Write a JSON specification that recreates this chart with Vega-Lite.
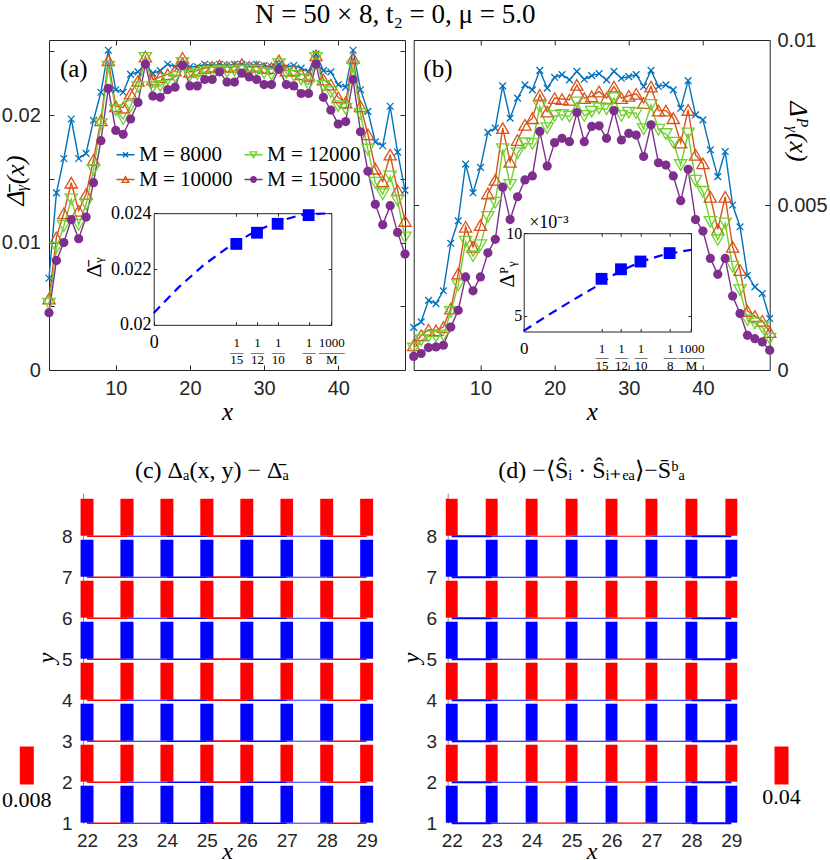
{
"$schema":"https://vega.github.io/schema/vega-lite/v6.json",
"background":"white",
"padding":0,
"autosize":{"type":"pad"},
"config":{
 "view":{"stroke":"#262626"},
 "axis":{"grid":false,"labelFont":"Liberation Sans","labelFontSize":20,"labelColor":"#262626","tickColor":"#262626","domainColor":"#262626","tickWidth":1,"titleFont":"Liberation Serif","titleFontWeight":"normal","titleFontStyle":"italic","titleColor":"#000","titleFontSize":25},
 "title":{"font":"Liberation Serif","fontWeight":"normal","color":"#000"}
},
"title":{"text":"N = 50 \u00d7 8, t\u2082 = 0, \u03bc = 5.0","font":"Liberation Serif","fontSize":27,"anchor":"middle","dx":-19,"offset":1},
"datasets":{
"pa":[
{"x":1,"M":"8000","v":0.0072},{"x":2,"M":"8000","v":0.0139},{"x":3,"M":"8000","v":0.0166},{"x":4,"M":"8000","v":0.0197},{"x":5,"M":"8000","v":0.0166},{"x":6,"M":"8000","v":0.0170},{"x":7,"M":"8000","v":0.0196},{"x":8,"M":"8000","v":0.0218},{"x":9,"M":"8000","v":0.0251},{"x":10,"M":"8000","v":0.0220},{"x":11,"M":"8000","v":0.0218},{"x":12,"M":"8000","v":0.0232},{"x":13,"M":"8000","v":0.0234},{"x":14,"M":"8000","v":0.0240},{"x":15,"M":"8000","v":0.0233},{"x":16,"M":"8000","v":0.0235},{"x":17,"M":"8000","v":0.0240},{"x":18,"M":"8000","v":0.0238},{"x":19,"M":"8000","v":0.0240},{"x":20,"M":"8000","v":0.0238},{"x":21,"M":"8000","v":0.0238},{"x":22,"M":"8000","v":0.0240},{"x":23,"M":"8000","v":0.0239},{"x":24,"M":"8000","v":0.0240},{"x":25,"M":"8000","v":0.0239},{"x":26,"M":"8000","v":0.0240},{"x":27,"M":"8000","v":0.0240},{"x":28,"M":"8000","v":0.0239},{"x":29,"M":"8000","v":0.0240},{"x":30,"M":"8000","v":0.0239},{"x":31,"M":"8000","v":0.0238},{"x":32,"M":"8000","v":0.0240},{"x":33,"M":"8000","v":0.0238},{"x":34,"M":"8000","v":0.0239},{"x":35,"M":"8000","v":0.0237},{"x":36,"M":"8000","v":0.0234},{"x":37,"M":"8000","v":0.0248},{"x":38,"M":"8000","v":0.0235},{"x":39,"M":"8000","v":0.0234},{"x":40,"M":"8000","v":0.0224},{"x":41,"M":"8000","v":0.0222},{"x":42,"M":"8000","v":0.0251},{"x":43,"M":"8000","v":0.0220},{"x":44,"M":"8000","v":0.0203},{"x":45,"M":"8000","v":0.0179},{"x":46,"M":"8000","v":0.0176},{"x":47,"M":"8000","v":0.0207},{"x":48,"M":"8000","v":0.0171},{"x":49,"M":"8000","v":0.0141},
{"x":1,"M":"10000","v":0.0056},{"x":2,"M":"10000","v":0.0104},{"x":3,"M":"10000","v":0.0123},{"x":4,"M":"10000","v":0.0147},{"x":5,"M":"10000","v":0.0125},{"x":6,"M":"10000","v":0.0138},{"x":7,"M":"10000","v":0.0165},{"x":8,"M":"10000","v":0.0196},{"x":9,"M":"10000","v":0.0243},{"x":10,"M":"10000","v":0.0207},{"x":11,"M":"10000","v":0.0206},{"x":12,"M":"10000","v":0.0217},{"x":13,"M":"10000","v":0.0227},{"x":14,"M":"10000","v":0.0246},{"x":15,"M":"10000","v":0.0228},{"x":16,"M":"10000","v":0.0230},{"x":17,"M":"10000","v":0.0232},{"x":18,"M":"10000","v":0.0235},{"x":19,"M":"10000","v":0.0245},{"x":20,"M":"10000","v":0.0234},{"x":21,"M":"10000","v":0.0235},{"x":22,"M":"10000","v":0.0237},{"x":23,"M":"10000","v":0.0238},{"x":24,"M":"10000","v":0.0239},{"x":25,"M":"10000","v":0.0238},{"x":26,"M":"10000","v":0.0238},{"x":27,"M":"10000","v":0.0240},{"x":28,"M":"10000","v":0.0238},{"x":29,"M":"10000","v":0.0238},{"x":30,"M":"10000","v":0.0237},{"x":31,"M":"10000","v":0.0237},{"x":32,"M":"10000","v":0.0243},{"x":33,"M":"10000","v":0.0235},{"x":34,"M":"10000","v":0.0235},{"x":35,"M":"10000","v":0.0232},{"x":36,"M":"10000","v":0.0231},{"x":37,"M":"10000","v":0.0247},{"x":38,"M":"10000","v":0.0228},{"x":39,"M":"10000","v":0.0224},{"x":40,"M":"10000","v":0.0214},{"x":41,"M":"10000","v":0.0210},{"x":42,"M":"10000","v":0.0245},{"x":43,"M":"10000","v":0.0207},{"x":44,"M":"10000","v":0.0185},{"x":45,"M":"10000","v":0.0158},{"x":46,"M":"10000","v":0.0148},{"x":47,"M":"10000","v":0.0169},{"x":48,"M":"10000","v":0.0141},{"x":49,"M":"10000","v":0.0117},
{"x":1,"M":"12000","v":0.0052},{"x":2,"M":"12000","v":0.0096},{"x":3,"M":"12000","v":0.0113},{"x":4,"M":"12000","v":0.0134},{"x":5,"M":"12000","v":0.0114},{"x":6,"M":"12000","v":0.0130},{"x":7,"M":"12000","v":0.0157},{"x":8,"M":"12000","v":0.0193},{"x":9,"M":"12000","v":0.0238},{"x":10,"M":"12000","v":0.0204},{"x":11,"M":"12000","v":0.0197},{"x":12,"M":"12000","v":0.0207},{"x":13,"M":"12000","v":0.0222},{"x":14,"M":"12000","v":0.0245},{"x":15,"M":"12000","v":0.0222},{"x":16,"M":"12000","v":0.0223},{"x":17,"M":"12000","v":0.0228},{"x":18,"M":"12000","v":0.0230},{"x":19,"M":"12000","v":0.0241},{"x":20,"M":"12000","v":0.0231},{"x":21,"M":"12000","v":0.0232},{"x":22,"M":"12000","v":0.0234},{"x":23,"M":"12000","v":0.0234},{"x":24,"M":"12000","v":0.0235},{"x":25,"M":"12000","v":0.0234},{"x":26,"M":"12000","v":0.0235},{"x":27,"M":"12000","v":0.0235},{"x":28,"M":"12000","v":0.0235},{"x":29,"M":"12000","v":0.0235},{"x":30,"M":"12000","v":0.0233},{"x":31,"M":"12000","v":0.0232},{"x":32,"M":"12000","v":0.0240},{"x":33,"M":"12000","v":0.0233},{"x":34,"M":"12000","v":0.0231},{"x":35,"M":"12000","v":0.0228},{"x":36,"M":"12000","v":0.0224},{"x":37,"M":"12000","v":0.0245},{"x":38,"M":"12000","v":0.0223},{"x":39,"M":"12000","v":0.0218},{"x":40,"M":"12000","v":0.0207},{"x":41,"M":"12000","v":0.0205},{"x":42,"M":"12000","v":0.0238},{"x":43,"M":"12000","v":0.0201},{"x":44,"M":"12000","v":0.0173},{"x":45,"M":"12000","v":0.0147},{"x":46,"M":"12000","v":0.0138},{"x":47,"M":"12000","v":0.0152},{"x":48,"M":"12000","v":0.0133},{"x":49,"M":"12000","v":0.0104},
{"x":1,"M":"15000","v":0.0045},{"x":2,"M":"15000","v":0.0086},{"x":3,"M":"15000","v":0.0100},{"x":4,"M":"15000","v":0.0118},{"x":5,"M":"15000","v":0.0103},{"x":6,"M":"15000","v":0.0120},{"x":7,"M":"15000","v":0.0147},{"x":8,"M":"15000","v":0.0180},{"x":9,"M":"15000","v":0.0221},{"x":10,"M":"15000","v":0.0188},{"x":11,"M":"15000","v":0.0185},{"x":12,"M":"15000","v":0.0197},{"x":13,"M":"15000","v":0.0210},{"x":14,"M":"15000","v":0.0240},{"x":15,"M":"15000","v":0.0215},{"x":16,"M":"15000","v":0.0214},{"x":17,"M":"15000","v":0.0220},{"x":18,"M":"15000","v":0.0222},{"x":19,"M":"15000","v":0.0239},{"x":20,"M":"15000","v":0.0223},{"x":21,"M":"15000","v":0.0223},{"x":22,"M":"15000","v":0.0228},{"x":23,"M":"15000","v":0.0228},{"x":24,"M":"15000","v":0.0234},{"x":25,"M":"15000","v":0.0226},{"x":26,"M":"15000","v":0.0226},{"x":27,"M":"15000","v":0.0233},{"x":28,"M":"15000","v":0.0230},{"x":29,"M":"15000","v":0.0228},{"x":30,"M":"15000","v":0.0224},{"x":31,"M":"15000","v":0.0224},{"x":32,"M":"15000","v":0.0236},{"x":33,"M":"15000","v":0.0224},{"x":34,"M":"15000","v":0.0223},{"x":35,"M":"15000","v":0.0217},{"x":36,"M":"15000","v":0.0217},{"x":37,"M":"15000","v":0.0240},{"x":38,"M":"15000","v":0.0214},{"x":39,"M":"15000","v":0.0204},{"x":40,"M":"15000","v":0.0193},{"x":41,"M":"15000","v":0.0195},{"x":42,"M":"15000","v":0.0228},{"x":43,"M":"15000","v":0.0187},{"x":44,"M":"15000","v":0.0156},{"x":45,"M":"15000","v":0.0130},{"x":46,"M":"15000","v":0.0114},{"x":47,"M":"15000","v":0.0129},{"x":48,"M":"15000","v":0.0108},{"x":49,"M":"15000","v":0.0091}
],
"pb":[
{"x":1,"M":"8000","v":0.00129},{"x":2,"M":"8000","v":0.00146},{"x":3,"M":"8000","v":0.00211},{"x":4,"M":"8000","v":0.00201},{"x":5,"M":"8000","v":0.0024},{"x":6,"M":"8000","v":0.00384},{"x":7,"M":"8000","v":0.00452},{"x":8,"M":"8000","v":0.00624},{"x":9,"M":"8000","v":0.00537},{"x":10,"M":"8000","v":0.00614},{"x":11,"M":"8000","v":0.0072},{"x":12,"M":"8000","v":0.00733},{"x":13,"M":"8000","v":0.00861},{"x":14,"M":"8000","v":0.00763},{"x":15,"M":"8000","v":0.00824},{"x":16,"M":"8000","v":0.00864},{"x":17,"M":"8000","v":0.00849},{"x":18,"M":"8000","v":0.00908},{"x":19,"M":"8000","v":0.00854},{"x":20,"M":"8000","v":0.00887},{"x":21,"M":"8000","v":0.00895},{"x":22,"M":"8000","v":0.00879},{"x":23,"M":"8000","v":0.00905},{"x":24,"M":"8000","v":0.00881},{"x":25,"M":"8000","v":0.00892},{"x":26,"M":"8000","v":0.00898},{"x":27,"M":"8000","v":0.00879},{"x":28,"M":"8000","v":0.00905},{"x":29,"M":"8000","v":0.00884},{"x":30,"M":"8000","v":0.00889},{"x":31,"M":"8000","v":0.00895},{"x":32,"M":"8000","v":0.00859},{"x":33,"M":"8000","v":0.00908},{"x":34,"M":"8000","v":0.00859},{"x":35,"M":"8000","v":0.00864},{"x":36,"M":"8000","v":0.00849},{"x":37,"M":"8000","v":0.00793},{"x":38,"M":"8000","v":0.00877},{"x":39,"M":"8000","v":0.00773},{"x":40,"M":"8000","v":0.00758},{"x":41,"M":"8000","v":0.00667},{"x":42,"M":"8000","v":0.00586},{"x":43,"M":"8000","v":0.00662},{"x":44,"M":"8000","v":0.005},{"x":45,"M":"8000","v":0.00434},{"x":46,"M":"8000","v":0.00287},{"x":47,"M":"8000","v":0.00252},{"x":48,"M":"8000","v":0.00232},{"x":49,"M":"8000","v":0.00156},
{"x":1,"M":"10000","v":0.00075},{"x":2,"M":"10000","v":0.00105},{"x":3,"M":"10000","v":0.00122},{"x":4,"M":"10000","v":0.0012},{"x":5,"M":"10000","v":0.0013},{"x":6,"M":"10000","v":0.00186},{"x":7,"M":"10000","v":0.00292},{"x":8,"M":"10000","v":0.00434},{"x":9,"M":"10000","v":0.00373},{"x":10,"M":"10000","v":0.00439},{"x":11,"M":"10000","v":0.00535},{"x":12,"M":"10000","v":0.00576},{"x":13,"M":"10000","v":0.00733},{"x":14,"M":"10000","v":0.00631},{"x":15,"M":"10000","v":0.00697},{"x":16,"M":"10000","v":0.00743},{"x":17,"M":"10000","v":0.00763},{"x":18,"M":"10000","v":0.00834},{"x":19,"M":"10000","v":0.00783},{"x":20,"M":"10000","v":0.00824},{"x":21,"M":"10000","v":0.00821},{"x":22,"M":"10000","v":0.00819},{"x":23,"M":"10000","v":0.00864},{"x":24,"M":"10000","v":0.00824},{"x":25,"M":"10000","v":0.00829},{"x":26,"M":"10000","v":0.00844},{"x":27,"M":"10000","v":0.00824},{"x":28,"M":"10000","v":0.00859},{"x":29,"M":"10000","v":0.00824},{"x":30,"M":"10000","v":0.00831},{"x":31,"M":"10000","v":0.00837},{"x":32,"M":"10000","v":0.00809},{"x":33,"M":"10000","v":0.00859},{"x":34,"M":"10000","v":0.00786},{"x":35,"M":"10000","v":0.00786},{"x":36,"M":"10000","v":0.00763},{"x":37,"M":"10000","v":0.00689},{"x":38,"M":"10000","v":0.00788},{"x":39,"M":"10000","v":0.00652},{"x":40,"M":"10000","v":0.00626},{"x":41,"M":"10000","v":0.00525},{"x":42,"M":"10000","v":0.00426},{"x":43,"M":"10000","v":0.00525},{"x":44,"M":"10000","v":0.00373},{"x":45,"M":"10000","v":0.00303},{"x":46,"M":"10000","v":0.00179},{"x":47,"M":"10000","v":0.00163},{"x":48,"M":"10000","v":0.00149},{"x":49,"M":"10000","v":0.00115},
{"x":1,"M":"12000","v":0.00065},{"x":2,"M":"12000","v":0.0009},{"x":3,"M":"12000","v":0.00102},{"x":4,"M":"12000","v":0.00102},{"x":5,"M":"12000","v":0.00105},{"x":6,"M":"12000","v":0.00176},{"x":7,"M":"12000","v":0.00257},{"x":8,"M":"12000","v":0.00389},{"x":9,"M":"12000","v":0.00345},{"x":10,"M":"12000","v":0.00378},{"x":11,"M":"12000","v":0.00464},{"x":12,"M":"12000","v":0.00507},{"x":13,"M":"12000","v":0.00669},{"x":14,"M":"12000","v":0.00561},{"x":15,"M":"12000","v":0.00657},{"x":16,"M":"12000","v":0.00687},{"x":17,"M":"12000","v":0.00685},{"x":18,"M":"12000","v":0.00798},{"x":19,"M":"12000","v":0.00733},{"x":20,"M":"12000","v":0.0077},{"x":21,"M":"12000","v":0.00773},{"x":22,"M":"12000","v":0.00768},{"x":23,"M":"12000","v":0.00811},{"x":24,"M":"12000","v":0.0077},{"x":25,"M":"12000","v":0.00783},{"x":26,"M":"12000","v":0.00793},{"x":27,"M":"12000","v":0.0079},{"x":28,"M":"12000","v":0.00824},{"x":29,"M":"12000","v":0.0077},{"x":30,"M":"12000","v":0.0078},{"x":31,"M":"12000","v":0.00778},{"x":32,"M":"12000","v":0.0073},{"x":33,"M":"12000","v":0.00803},{"x":34,"M":"12000","v":0.00728},{"x":35,"M":"12000","v":0.00715},{"x":36,"M":"12000","v":0.00689},{"x":37,"M":"12000","v":0.00621},{"x":38,"M":"12000","v":0.00717},{"x":39,"M":"12000","v":0.00574},{"x":40,"M":"12000","v":0.0054},{"x":41,"M":"12000","v":0.00449},{"x":42,"M":"12000","v":0.00394},{"x":43,"M":"12000","v":0.00444},{"x":44,"M":"12000","v":0.00313},{"x":45,"M":"12000","v":0.00242},{"x":46,"M":"12000","v":0.00151},{"x":47,"M":"12000","v":0.00141},{"x":48,"M":"12000","v":0.00129},{"x":49,"M":"12000","v":0.00095},
{"x":1,"M":"15000","v":0.00041},{"x":2,"M":"15000","v":0.0005},{"x":3,"M":"15000","v":0.00068},{"x":4,"M":"15000","v":0.0007},{"x":5,"M":"15000","v":0.00075},{"x":6,"M":"15000","v":0.0013},{"x":7,"M":"15000","v":0.00181},{"x":8,"M":"15000","v":0.00282},{"x":9,"M":"15000","v":0.0024},{"x":10,"M":"15000","v":0.00282},{"x":11,"M":"15000","v":0.00355},{"x":12,"M":"15000","v":0.00396},{"x":13,"M":"15000","v":0.00554},{"x":14,"M":"15000","v":0.00456},{"x":15,"M":"15000","v":0.00525},{"x":16,"M":"15000","v":0.00576},{"x":17,"M":"15000","v":0.00588},{"x":18,"M":"15000","v":0.00723},{"x":19,"M":"15000","v":0.00618},{"x":20,"M":"15000","v":0.00689},{"x":21,"M":"15000","v":0.00702},{"x":22,"M":"15000","v":0.00692},{"x":23,"M":"15000","v":0.0078},{"x":24,"M":"15000","v":0.00692},{"x":25,"M":"15000","v":0.00738},{"x":26,"M":"15000","v":0.0074},{"x":27,"M":"15000","v":0.00702},{"x":28,"M":"15000","v":0.00786},{"x":29,"M":"15000","v":0.00697},{"x":30,"M":"15000","v":0.00717},{"x":31,"M":"15000","v":0.00712},{"x":32,"M":"15000","v":0.00647},{"x":33,"M":"15000","v":0.00743},{"x":34,"M":"15000","v":0.00628},{"x":35,"M":"15000","v":0.00621},{"x":36,"M":"15000","v":0.00588},{"x":37,"M":"15000","v":0.00513},{"x":38,"M":"15000","v":0.00608},{"x":39,"M":"15000","v":0.00456},{"x":40,"M":"15000","v":0.00421},{"x":41,"M":"15000","v":0.00338},{"x":42,"M":"15000","v":0.0029},{"x":43,"M":"15000","v":0.00338},{"x":44,"M":"15000","v":0.00224},{"x":45,"M":"15000","v":0.00171},{"x":46,"M":"15000","v":0.00105},{"x":47,"M":"15000","v":0.00095},{"x":48,"M":"15000","v":0.00085},{"x":49,"M":"15000","v":0.0006}
],
"ia_pts":[{"r":0.0666667,"v":0.0229},{"r":0.0833333,"v":0.0233},{"r":0.1,"v":0.02362},{"r":0.125,"v":0.02393}],
"ia_fit":[{"r":0,"v":0.02042},{"r":0.02,"v":0.02134},{"r":0.04,"v":0.02213},{"r":0.06,"v":0.02278},{"r":0.08,"v":0.0233},{"r":0.1,"v":0.0237},{"r":0.12,"v":0.02395},{"r":0.1433,"v":0.024}],
"ib_pts":[{"r":0.0666667,"v":0.00723},{"r":0.0833333,"v":0.00781},{"r":0.1,"v":0.00828},{"r":0.125,"v":0.00879}],
"ib_fit":[{"r":0,"v":0.00407},{"r":0.02,"v":0.00498},{"r":0.04,"v":0.00585},{"r":0.06,"v":0.00668},{"r":0.08,"v":0.0076},{"r":0.1,"v":0.00826},{"r":0.12,"v":0.0087},{"r":0.1433,"v":0.00899}],
"vb":[
{"x":22,"y0":1,"y1":2,"s":-1,"mc":0.0074,"md":0.034},{"x":22,"y0":2,"y1":3,"s":1,"mc":0.0074,"md":0.034},{"x":22,"y0":3,"y1":4,"s":-1,"mc":0.0074,"md":0.034},{"x":22,"y0":4,"y1":5,"s":1,"mc":0.0074,"md":0.034},{"x":22,"y0":5,"y1":6,"s":-1,"mc":0.0074,"md":0.034},{"x":22,"y0":6,"y1":7,"s":1,"mc":0.0074,"md":0.034},{"x":22,"y0":7,"y1":8,"s":-1,"mc":0.0074,"md":0.034},{"x":22,"y0":8,"y1":9,"s":1,"mc":0.0074,"md":0.034},
{"x":23,"y0":1,"y1":2,"s":-1,"mc":0.0075,"md":0.034},{"x":23,"y0":2,"y1":3,"s":1,"mc":0.0075,"md":0.034},{"x":23,"y0":3,"y1":4,"s":-1,"mc":0.0075,"md":0.034},{"x":23,"y0":4,"y1":5,"s":1,"mc":0.0075,"md":0.034},{"x":23,"y0":5,"y1":6,"s":-1,"mc":0.0075,"md":0.034},{"x":23,"y0":6,"y1":7,"s":1,"mc":0.0075,"md":0.034},{"x":23,"y0":7,"y1":8,"s":-1,"mc":0.0075,"md":0.034},{"x":23,"y0":8,"y1":9,"s":1,"mc":0.0075,"md":0.034},
{"x":24,"y0":1,"y1":2,"s":-1,"mc":0.0074,"md":0.034},{"x":24,"y0":2,"y1":3,"s":1,"mc":0.0074,"md":0.034},{"x":24,"y0":3,"y1":4,"s":-1,"mc":0.0074,"md":0.034},{"x":24,"y0":4,"y1":5,"s":1,"mc":0.0074,"md":0.034},{"x":24,"y0":5,"y1":6,"s":-1,"mc":0.0074,"md":0.034},{"x":24,"y0":6,"y1":7,"s":1,"mc":0.0074,"md":0.034},{"x":24,"y0":7,"y1":8,"s":-1,"mc":0.0074,"md":0.034},{"x":24,"y0":8,"y1":9,"s":1,"mc":0.0074,"md":0.034},
{"x":25,"y0":1,"y1":2,"s":-1,"mc":0.0075,"md":0.034},{"x":25,"y0":2,"y1":3,"s":1,"mc":0.0075,"md":0.034},{"x":25,"y0":3,"y1":4,"s":-1,"mc":0.0075,"md":0.034},{"x":25,"y0":4,"y1":5,"s":1,"mc":0.0075,"md":0.034},{"x":25,"y0":5,"y1":6,"s":-1,"mc":0.0075,"md":0.034},{"x":25,"y0":6,"y1":7,"s":1,"mc":0.0075,"md":0.034},{"x":25,"y0":7,"y1":8,"s":-1,"mc":0.0075,"md":0.034},{"x":25,"y0":8,"y1":9,"s":1,"mc":0.0075,"md":0.034},
{"x":26,"y0":1,"y1":2,"s":-1,"mc":0.0074,"md":0.034},{"x":26,"y0":2,"y1":3,"s":1,"mc":0.0074,"md":0.034},{"x":26,"y0":3,"y1":4,"s":-1,"mc":0.0074,"md":0.034},{"x":26,"y0":4,"y1":5,"s":1,"mc":0.0074,"md":0.034},{"x":26,"y0":5,"y1":6,"s":-1,"mc":0.0074,"md":0.034},{"x":26,"y0":6,"y1":7,"s":1,"mc":0.0074,"md":0.034},{"x":26,"y0":7,"y1":8,"s":-1,"mc":0.0074,"md":0.034},{"x":26,"y0":8,"y1":9,"s":1,"mc":0.0074,"md":0.034},
{"x":27,"y0":1,"y1":2,"s":-1,"mc":0.0072,"md":0.034},{"x":27,"y0":2,"y1":3,"s":1,"mc":0.0072,"md":0.034},{"x":27,"y0":3,"y1":4,"s":-1,"mc":0.0072,"md":0.034},{"x":27,"y0":4,"y1":5,"s":1,"mc":0.0072,"md":0.034},{"x":27,"y0":5,"y1":6,"s":-1,"mc":0.0072,"md":0.034},{"x":27,"y0":6,"y1":7,"s":1,"mc":0.0072,"md":0.034},{"x":27,"y0":7,"y1":8,"s":-1,"mc":0.0072,"md":0.034},{"x":27,"y0":8,"y1":9,"s":1,"mc":0.0072,"md":0.034},
{"x":28,"y0":1,"y1":2,"s":-1,"mc":0.0074,"md":0.034},{"x":28,"y0":2,"y1":3,"s":1,"mc":0.0074,"md":0.034},{"x":28,"y0":3,"y1":4,"s":-1,"mc":0.0074,"md":0.034},{"x":28,"y0":4,"y1":5,"s":1,"mc":0.0074,"md":0.034},{"x":28,"y0":5,"y1":6,"s":-1,"mc":0.0074,"md":0.034},{"x":28,"y0":6,"y1":7,"s":1,"mc":0.0074,"md":0.034},{"x":28,"y0":7,"y1":8,"s":-1,"mc":0.0074,"md":0.034},{"x":28,"y0":8,"y1":9,"s":1,"mc":0.0074,"md":0.034},
{"x":29,"y0":1,"y1":2,"s":-1,"mc":0.0074,"md":0.034},{"x":29,"y0":2,"y1":3,"s":1,"mc":0.0074,"md":0.034},{"x":29,"y0":3,"y1":4,"s":-1,"mc":0.0074,"md":0.034},{"x":29,"y0":4,"y1":5,"s":1,"mc":0.0074,"md":0.034},{"x":29,"y0":5,"y1":6,"s":-1,"mc":0.0074,"md":0.034},{"x":29,"y0":6,"y1":7,"s":1,"mc":0.0074,"md":0.034},{"x":29,"y0":7,"y1":8,"s":-1,"mc":0.0074,"md":0.034},{"x":29,"y0":8,"y1":9,"s":1,"mc":0.0074,"md":0.034}
],
"hb":[
{"x0":22,"x1":23,"y":1,"sc":1,"mc":0.0009,"sd":-1,"md":0.0055},{"x0":23,"x1":24,"y":1,"sc":-1,"mc":0.0006,"sd":-1,"md":0.003},{"x0":24,"x1":25,"y":1,"sc":-1,"mc":0.0008,"sd":1,"md":0.0035},{"x0":25,"x1":26,"y":1,"sc":1,"mc":0.001,"sd":-1,"md":0.003},{"x0":26,"x1":27,"y":1,"sc":-1,"mc":0.0008,"sd":1,"md":0.0035},{"x0":27,"x1":28,"y":1,"sc":-1,"mc":0.0005,"sd":-1,"md":0.003},{"x0":28,"x1":29,"y":1,"sc":1,"mc":0.0009,"sd":-1,"md":0.0055},
{"x0":22,"x1":23,"y":2,"sc":1,"mc":0.0009,"sd":-1,"md":0.0055},{"x0":23,"x1":24,"y":2,"sc":-1,"mc":0.0006,"sd":-1,"md":0.003},{"x0":24,"x1":25,"y":2,"sc":-1,"mc":0.0008,"sd":1,"md":0.0035},{"x0":25,"x1":26,"y":2,"sc":1,"mc":0.001,"sd":-1,"md":0.003},{"x0":26,"x1":27,"y":2,"sc":-1,"mc":0.0008,"sd":1,"md":0.0035},{"x0":27,"x1":28,"y":2,"sc":-1,"mc":0.0005,"sd":-1,"md":0.003},{"x0":28,"x1":29,"y":2,"sc":1,"mc":0.0009,"sd":-1,"md":0.0055},
{"x0":22,"x1":23,"y":3,"sc":1,"mc":0.0009,"sd":-1,"md":0.0055},{"x0":23,"x1":24,"y":3,"sc":-1,"mc":0.0006,"sd":-1,"md":0.003},{"x0":24,"x1":25,"y":3,"sc":-1,"mc":0.0008,"sd":1,"md":0.0035},{"x0":25,"x1":26,"y":3,"sc":1,"mc":0.001,"sd":-1,"md":0.003},{"x0":26,"x1":27,"y":3,"sc":-1,"mc":0.0008,"sd":1,"md":0.0035},{"x0":27,"x1":28,"y":3,"sc":-1,"mc":0.0005,"sd":-1,"md":0.003},{"x0":28,"x1":29,"y":3,"sc":1,"mc":0.0009,"sd":-1,"md":0.0055},
{"x0":22,"x1":23,"y":4,"sc":1,"mc":0.0009,"sd":-1,"md":0.0055},{"x0":23,"x1":24,"y":4,"sc":-1,"mc":0.0006,"sd":-1,"md":0.003},{"x0":24,"x1":25,"y":4,"sc":-1,"mc":0.0008,"sd":1,"md":0.0035},{"x0":25,"x1":26,"y":4,"sc":1,"mc":0.001,"sd":-1,"md":0.003},{"x0":26,"x1":27,"y":4,"sc":-1,"mc":0.0008,"sd":1,"md":0.0035},{"x0":27,"x1":28,"y":4,"sc":-1,"mc":0.0005,"sd":-1,"md":0.003},{"x0":28,"x1":29,"y":4,"sc":1,"mc":0.0009,"sd":-1,"md":0.0055},
{"x0":22,"x1":23,"y":5,"sc":1,"mc":0.0009,"sd":-1,"md":0.0055},{"x0":23,"x1":24,"y":5,"sc":-1,"mc":0.0006,"sd":-1,"md":0.003},{"x0":24,"x1":25,"y":5,"sc":-1,"mc":0.0008,"sd":1,"md":0.0035},{"x0":25,"x1":26,"y":5,"sc":1,"mc":0.001,"sd":-1,"md":0.003},{"x0":26,"x1":27,"y":5,"sc":-1,"mc":0.0008,"sd":1,"md":0.0035},{"x0":27,"x1":28,"y":5,"sc":-1,"mc":0.0005,"sd":-1,"md":0.003},{"x0":28,"x1":29,"y":5,"sc":1,"mc":0.0009,"sd":-1,"md":0.0055},
{"x0":22,"x1":23,"y":6,"sc":1,"mc":0.0009,"sd":-1,"md":0.0055},{"x0":23,"x1":24,"y":6,"sc":-1,"mc":0.0006,"sd":-1,"md":0.003},{"x0":24,"x1":25,"y":6,"sc":-1,"mc":0.0008,"sd":1,"md":0.0035},{"x0":25,"x1":26,"y":6,"sc":1,"mc":0.001,"sd":-1,"md":0.003},{"x0":26,"x1":27,"y":6,"sc":-1,"mc":0.0008,"sd":1,"md":0.0035},{"x0":27,"x1":28,"y":6,"sc":-1,"mc":0.0005,"sd":-1,"md":0.003},{"x0":28,"x1":29,"y":6,"sc":1,"mc":0.0009,"sd":-1,"md":0.0055},
{"x0":22,"x1":23,"y":7,"sc":1,"mc":0.0009,"sd":-1,"md":0.0055},{"x0":23,"x1":24,"y":7,"sc":-1,"mc":0.0006,"sd":-1,"md":0.003},{"x0":24,"x1":25,"y":7,"sc":-1,"mc":0.0008,"sd":1,"md":0.0035},{"x0":25,"x1":26,"y":7,"sc":1,"mc":0.001,"sd":-1,"md":0.003},{"x0":26,"x1":27,"y":7,"sc":-1,"mc":0.0008,"sd":1,"md":0.0035},{"x0":27,"x1":28,"y":7,"sc":-1,"mc":0.0005,"sd":-1,"md":0.003},{"x0":28,"x1":29,"y":7,"sc":1,"mc":0.0009,"sd":-1,"md":0.0055},
{"x0":22,"x1":23,"y":8,"sc":1,"mc":0.0009,"sd":-1,"md":0.0055},{"x0":23,"x1":24,"y":8,"sc":-1,"mc":0.0006,"sd":-1,"md":0.003},{"x0":24,"x1":25,"y":8,"sc":-1,"mc":0.0008,"sd":1,"md":0.0035},{"x0":25,"x1":26,"y":8,"sc":1,"mc":0.001,"sd":-1,"md":0.003},{"x0":26,"x1":27,"y":8,"sc":-1,"mc":0.0008,"sd":1,"md":0.0035},{"x0":27,"x1":28,"y":8,"sc":-1,"mc":0.0005,"sd":-1,"md":0.003},{"x0":28,"x1":29,"y":8,"sc":1,"mc":0.0009,"sd":-1,"md":0.0055}
]
},
"columns":2,
"spacing":{"row":123.2,"column":8.7},
"bounds":"flush",
"resolve":{"scale":{"color":"independent","shape":"independent","size":"independent","strokeWidth":"independent"},"legend":{"color":"independent","shape":"independent","size":"independent","strokeWidth":"independent"}},
"concat":[
 {"width":356,"height":330,
  "view":{"stroke":"#262626","strokeWidth":1},
  "resolve":{"scale":{"x":"independent","y":"independent"},"axis":{"x":"independent","y":"independent"}},
  "layer":[
   {"resolve":{"axis":{"x":"independent","y":"independent"}},
    "layer":[
     {"data":{"name":"pa"},"mark":{"type":"line","strokeWidth":1.4},
      "encoding":{
       "x":{"field":"x","type":"quantitative","scale":{"domain":[1,49],"nice":false,"zero":false},"axis":{"orient":"bottom","values":[10,20,30,40],"format":"d","domain":false,"tickSize":-5,"labelPadding":13,"title":"x","titleY":41.5,"titleBaseline":"middle"}},
       "y":{"field":"v","type":"quantitative","scale":{"domain":[0,0.0259],"nice":false,"zero":false},"axis":{"orient":"left","values":[0,0.005,0.01,0.015,0.02,0.025],"labelExpr":"round(datum.value*1000) % 10 === 0 ? format(datum.value, '~g') : ''","domain":false,"tickSize":-5,"labelPadding":13.7,"title":"\u0394\u0304\u1d67(x)","titleX":-34,"titleY":140,"titleBaseline":"middle","titleAlign":"center","titleAngle":-90,"titleFontSize":26}},
       "color":{"field":"M","type":"nominal","scale":{"domain":["8000","10000","12000","15000"],"range":["#0072BD","#D95319","#70D030","#7E2F8E"]},
        "legend":{"values":["8000","10000","12000","15000"],"orient":"none","legendX":66,"legendY":104,"columns":2,"columnPadding":8,"rowPadding":3,"padding":0,"title":null,"labelFont":"Liberation Serif","labelFontSize":21,"labelColor":"#000","labelOffset":3,"labelExpr":"'M = ' + datum.label","symbolSize":324,"symbolStrokeWidth":1.4,
         "encode":{"symbols":{"update":{
          "shape":{"signal":"datum.value === '8000' ? 'M-1,0L1,0M-0.28,-0.28L0.28,0.28M-0.28,0.28L0.28,-0.28' : datum.value === '10000' ? 'M-1,0L1,0M0,-0.32L0.37,0.32L-0.37,0.32Z' : datum.value === '12000' ? 'M-1,0L1,0M-0.37,-0.32L0.37,-0.32L0,0.32Z' : 'M-1,0L1,0M0.3,0A0.3,0.3 0 1 1 -0.3,0A0.3,0.3 0 1 1 0.3,0Z'"},
          "stroke":{"signal":"datum.value === '8000' ? '#0072BD' : datum.value === '10000' ? '#D95319' : datum.value === '12000' ? '#70D030' : '#7E2F8E'"},
          "fill":{"signal":"datum.value === '15000' ? '#7E2F8E' : 'transparent'"},
          "strokeWidth":{"value":1.4},
          "opacity":{"value":1}}}}}}
      }},
     {"data":{"name":"pa"},"transform":[{"filter":"datum.M === '8000'"}],"mark":{"type":"point","shape":"M-1,-1L1,1M-1,1L1,-1","filled":false,"color":"#0072BD","size":45,"strokeWidth":1.3,"opacity":1},
      "encoding":{
       "x":{"field":"x","type":"quantitative","axis":{"orient":"top","values":[10,20,30,40],"labels":false,"domain":false,"tickSize":-5,"title":null}},
       "y":{"field":"v","type":"quantitative","axis":{"orient":"right","values":[0,0.005,0.01,0.015,0.02,0.025],"labels":false,"domain":false,"tickSize":-5,"title":null}}
      }},
     {"data":{"name":"pa"},"transform":[{"filter":"datum.M === '10000'"}],"mark":{"type":"point","shape":"triangle-up","filled":false,"color":"#D95319","size":150,"strokeWidth":1.3,"opacity":1},
      "encoding":{"x":{"field":"x","type":"quantitative","axis":null},"y":{"field":"v","type":"quantitative","axis":null}}},
     {"data":{"name":"pa"},"transform":[{"filter":"datum.M === '12000'"}],"mark":{"type":"point","shape":"triangle-down","filled":false,"color":"#70D030","size":150,"strokeWidth":1.3,"opacity":1},
      "encoding":{"x":{"field":"x","type":"quantitative","axis":null},"y":{"field":"v","type":"quantitative","axis":null}}},
     {"data":{"name":"pa"},"transform":[{"filter":"datum.M === '15000'"}],"mark":{"type":"point","shape":"circle","filled":true,"color":"#7E2F8E","size":85,"opacity":1},
      "encoding":{"x":{"field":"x","type":"quantitative","axis":null},"y":{"field":"v","type":"quantitative","axis":null}}},
     {"data":{"values":[{"t":"(a)"}]},"mark":{"type":"text","font":"Liberation Serif","fontSize":25,"align":"center","baseline":"middle","color":"#000"},
      "encoding":{"x":{"datum":4.34,"axis":null},"y":{"datum":0.02365,"axis":null},"text":{"field":"t"}}}
    ]},
   {"resolve":{"axis":{"x":"independent","y":"independent"}},
    "layer":[
     {"data":{"name":"ia_fit"},"mark":{"type":"line","color":"#0000FF","strokeWidth":2.2,"strokeDash":[9,6]},
      "encoding":{
       "x":{"field":"r","type":"quantitative","scale":{"domain":[0,0.1433],"range":[104.7,282.3],"nice":false,"zero":false},
        "axis":{"orient":"bottom","offset":-45.2,"values":[0,0.0666667,0.0833333,0.1,0.125,0.1433],"labelExpr":"datum.value < 0.01 ? '0' : datum.value < 0.07 ? ['1','\u2014','15'] : datum.value < 0.09 ? ['1','\u2014','12'] : datum.value < 0.11 ? ['1','\u2014','10'] : datum.value < 0.13 ? ['1','\u2014','8'] : ['1000','\u2014\u2014','M']","labelFont":"Liberation Serif","labelFontSize":{"condition":{"test":"datum.value < 0.01","value":18},"value":13},"labelLineHeight":8.5,"labelBaseline":"middle","labelPadding":20.7,"labelOverlap":false,"labelBound":false,"labelFlush":false,"labelColor":"#000","tickSize":-3,"domain":true,"title":null}},
       "y":{"field":"v","type":"quantitative","scale":{"domain":[0.02,0.024],"range":[284.8,173.2],"nice":false,"zero":false},
        "axis":{"orient":"left","offset":-104.7,"values":[0.02,0.022,0.024],"format":"~g","labelFont":"Liberation Serif","labelFontSize":18,"labelColor":"#000","labelPadding":5.7,"tickSize":-3,"domain":true,"title":"\u0394\u0304\u1d67","titleFontSize":22,"titleFontStyle":"normal","titleX":-60,"titleY":227,"titleBaseline":"middle","titleAlign":"center","titleAngle":-90}}
      }},
     {"data":{"name":"ia_pts"},"mark":{"type":"point","shape":"square","filled":true,"color":"#0000FF","size":140,"opacity":1},
      "encoding":{
       "x":{"field":"r","type":"quantitative","axis":{"orient":"top","offset":-173.2,"values":[0.0666667,0.0833333,0.1,0.125],"labels":false,"tickSize":-3,"domain":true,"title":null}},
       "y":{"field":"v","type":"quantitative","axis":{"orient":"right","offset":-73.7,"values":[0.02,0.022,0.024],"labels":false,"tickSize":-3,"domain":true,"title":null}}
      }}
    ]}
  ]},
 {"width":356,"height":330,
  "view":{"stroke":"#262626","strokeWidth":1},
  "resolve":{"scale":{"x":"independent","y":"independent"},"axis":{"x":"independent","y":"independent"}},
  "layer":[
   {"resolve":{"axis":{"x":"independent","y":"independent"}},
    "layer":[
     {"data":{"name":"pb"},"mark":{"type":"line","strokeWidth":1.4},
      "encoding":{
       "x":{"field":"x","type":"quantitative","scale":{"domain":[1,49],"nice":false,"zero":false},"axis":{"orient":"bottom","values":[10,20,30,40],"format":"d","domain":false,"tickSize":-5,"labelPadding":13,"title":"x","titleY":41.5,"titleBaseline":"middle"}},
       "y":{"field":"v","type":"quantitative","scale":{"domain":[0,0.01],"nice":false,"zero":false},"axis":{"orient":"right","values":[0,0.005,0.01],"format":"~g","domain":false,"tickSize":-5,"labelPadding":12.3,"title":"\u0394\u1d3e\u1d67(x)","titleX":28,"titleY":91,"titleBaseline":"middle","titleAlign":"center","titleAngle":90,"titleFontSize":26}},
       "color":{"field":"M","type":"nominal","scale":{"domain":["8000","10000","12000","15000"],"range":["#0072BD","#D95319","#70D030","#7E2F8E"]},"legend":null}
      }},
     {"data":{"name":"pb"},"transform":[{"filter":"datum.M === '8000'"}],"mark":{"type":"point","shape":"M-1,-1L1,1M-1,1L1,-1","filled":false,"color":"#0072BD","size":45,"strokeWidth":1.3,"opacity":1},
      "encoding":{
       "x":{"field":"x","type":"quantitative","axis":{"orient":"top","values":[10,20,30,40],"labels":false,"domain":false,"tickSize":-5,"title":null}},
       "y":{"field":"v","type":"quantitative","axis":{"orient":"left","values":[0,0.005,0.01],"labels":false,"domain":false,"tickSize":-5,"title":null}}
      }},
     {"data":{"name":"pb"},"transform":[{"filter":"datum.M === '10000'"}],"mark":{"type":"point","shape":"triangle-up","filled":false,"color":"#D95319","size":150,"strokeWidth":1.3,"opacity":1},
      "encoding":{"x":{"field":"x","type":"quantitative","axis":null},"y":{"field":"v","type":"quantitative","axis":null}}},
     {"data":{"name":"pb"},"transform":[{"filter":"datum.M === '12000'"}],"mark":{"type":"point","shape":"triangle-down","filled":false,"color":"#70D030","size":150,"strokeWidth":1.3,"opacity":1},
      "encoding":{"x":{"field":"x","type":"quantitative","axis":null},"y":{"field":"v","type":"quantitative","axis":null}}},
     {"data":{"name":"pb"},"transform":[{"filter":"datum.M === '15000'"}],"mark":{"type":"point","shape":"circle","filled":true,"color":"#7E2F8E","size":85,"opacity":1},
      "encoding":{"x":{"field":"x","type":"quantitative","axis":null},"y":{"field":"v","type":"quantitative","axis":null}}},
     {"data":{"values":[{"t":"(b)"}]},"mark":{"type":"text","font":"Liberation Serif","fontSize":25,"align":"center","baseline":"middle","color":"#000"},
      "encoding":{"x":{"datum":4.26,"axis":null},"y":{"datum":0.00912,"axis":null},"text":{"field":"t"}}}
    ]},
   {"resolve":{"axis":{"x":"independent","y":"independent"}},
    "layer":[
     {"data":{"name":"ib_fit"},"mark":{"type":"line","color":"#0000FF","strokeWidth":2.2,"strokeDash":[9,6]},
      "encoding":{
       "x":{"field":"r","type":"quantitative","scale":{"domain":[0,0.1433],"range":[110,277.3],"nice":false,"zero":false},
        "axis":{"orient":"bottom","offset":-38.5,"values":[0,0.0666667,0.0833333,0.1,0.125,0.1433],"labelExpr":"datum.value < 0.01 ? '0' : datum.value < 0.07 ? ['1','\u2014','15'] : datum.value < 0.09 ? ['1','\u2014','12'] : datum.value < 0.11 ? ['1','\u2014','10'] : datum.value < 0.13 ? ['1','\u2014','8'] : ['1000','\u2014\u2014','M']","labelFont":"Liberation Serif","labelFontSize":{"condition":{"test":"datum.value < 0.01","value":17},"value":13},"labelLineHeight":8.5,"labelBaseline":"middle","labelPadding":19.7,"labelOverlap":false,"labelBound":false,"labelFlush":false,"labelColor":"#000","tickSize":-3,"domain":true,"title":null}},
       "y":{"field":"v","type":"quantitative","scale":{"domain":[0.00403,0.01],"range":[291.5,193.2],"nice":false,"zero":false},
        "axis":{"orient":"left","offset":-110,"values":[0.005,0.01],"labelExpr":"format(datum.value*1000, '~g')","labelFont":"Liberation Serif","labelFontSize":16,"labelColor":"#000","labelPadding":5,"tickSize":-3,"domain":true,"title":"\u0394\u1d3e\u1d67","titleFontSize":21,"titleFontStyle":"normal","titleX":-16,"titleY":234,"titleBaseline":"middle","titleAlign":"center","titleAngle":-90}}
      }},
     {"data":{"name":"ib_pts"},"mark":{"type":"point","shape":"square","filled":true,"color":"#0000FF","size":140,"opacity":1},
      "encoding":{
       "x":{"field":"r","type":"quantitative","axis":{"orient":"top","offset":-193.2,"values":[0.0666667,0.0833333,0.1,0.125],"labels":false,"tickSize":-3,"domain":true,"title":"\u00d710\u207b\u00b3","titleFontStyle":"normal","titleFontSize":18,"titleX":134.8,"titleY":-10.7,"titleAlign":"center","titleBaseline":"middle","titleAngle":0}},
       "y":{"field":"v","type":"quantitative","axis":{"orient":"right","offset":-78.7,"values":[0.005,0.01],"labels":false,"tickSize":-3,"domain":true,"title":null}}
      }}
    ]}
  ]},
 {"width":356,"height":330,
  "view":{"stroke":null},
  "title":{"text":"(c) \u0394\u2090(x, y) \u2212 \u0394\u0304\u2090","fontSize":24,"dx":-15,"offset":10},
  "layer":[
   {"data":{"name":"hb"},"mark":{"type":"rule"},
    "encoding":{
     "x":{"field":"x0","type":"quantitative","scale":{"domain":[21.173,29.835],"nice":false,"zero":false},"axis":{"values":[22,23,24,25,26,27,28,29],"format":"d","domain":false,"ticks":false,"labelPadding":8.3,"labelFontSize":19,"title":"x","titleY":28.5,"titleBaseline":"middle","titleFontSize":24}},
     "x2":{"field":"x1"},
     "y":{"field":"y","type":"quantitative","scale":{"domain":[1,9.05],"nice":false,"zero":false},"axis":{"offset":-34,"values":[1,2,3,4,5,6,7,8],"format":"d","domain":true,"domainColor":"#8c8c8c","ticks":false,"labelPadding":11,"labelFontSize":19,"title":"y","titleX":-36.5,"titleY":164.3,"titleBaseline":"middle","titleAlign":"center","titleAngle":-90,"titleFontSize":24}},
     "color":{"condition":{"test":"datum.sc > 0","value":"#FF0000"},"value":"#0000FF"},
     "strokeWidth":{"field":"mc","type":"quantitative","scale":{"domain":[0,0.008],"range":[0,14]},"legend":null}
    }},
   {"data":{"name":"vb"},"mark":{"type":"bar","y2Offset":3.5,"yOffset":-0.5},
    "encoding":{
     "x":{"field":"x","type":"quantitative"},
     "y":{"field":"y0","type":"quantitative"},
     "y2":{"field":"y1"},
     "color":{"condition":{"test":"datum.s > 0","value":"#FF0000"},"value":"#0000FF"},
     "size":{"field":"mc","type":"quantitative","scale":{"domain":[0,0.008],"range":[0,14]},"legend":null}
    }},
   {"data":{"values":[{"label":"0.008"}]},"mark":{"type":"bar","color":"#FF0000"},
    "encoding":{"x":{"datum":20.492},"y":{"datum":1.944},"y2":{"datum":2.871},"size":{"datum":0.008}}},
   {"data":{"values":[{"label":"0.008"}]},"mark":{"type":"text","font":"Liberation Serif","fontSize":22,"align":"center","baseline":"middle","color":"#000"},
    "encoding":{"x":{"datum":20.492},"y":{"datum":1.578},"text":{"field":"label"}}}
  ]},
 {"width":356,"height":330,
  "view":{"stroke":null},
  "title":{"text":"(d) \u2212\u27e8\u015c\u1d62 \u00b7 \u015c\u1d62\u208a\u2091\u2090\u27e9\u2212S\u0304\u1d47\u2090","fontSize":24,"offset":10},
  "layer":[
   {"data":{"name":"hb"},"mark":{"type":"rule"},
    "encoding":{
     "x":{"field":"x0","type":"quantitative","scale":{"domain":[21.173,29.835],"nice":false,"zero":false},"axis":{"values":[22,23,24,25,26,27,28,29],"format":"d","domain":false,"ticks":false,"labelPadding":8.3,"labelFontSize":19,"title":"x","titleY":28.5,"titleBaseline":"middle","titleFontSize":24}},
     "x2":{"field":"x1"},
     "y":{"field":"y","type":"quantitative","scale":{"domain":[1,9.05],"nice":false,"zero":false},"axis":{"offset":-34,"values":[1,2,3,4,5,6,7,8],"format":"d","domain":true,"domainColor":"#8c8c8c","ticks":false,"labelPadding":11,"labelFontSize":19,"title":"y","titleX":-36.5,"titleY":164.3,"titleBaseline":"middle","titleAlign":"center","titleAngle":-90,"titleFontSize":24}},
     "color":{"condition":{"test":"datum.sd > 0","value":"#FF0000"},"value":"#0000FF"},
     "strokeWidth":{"field":"md","type":"quantitative","scale":{"domain":[0,0.04],"range":[0,14]},"legend":null}
    }},
   {"data":{"name":"vb"},"mark":{"type":"bar","y2Offset":3.5,"yOffset":-0.5},
    "encoding":{
     "x":{"field":"x","type":"quantitative"},
     "y":{"field":"y0","type":"quantitative"},
     "y2":{"field":"y1"},
     "color":{"condition":{"test":"datum.s > 0","value":"#FF0000"},"value":"#0000FF"},
     "size":{"field":"md","type":"quantitative","scale":{"domain":[0,0.04],"range":[0,14]},"legend":null}
    }},
   {"data":{"values":[{"label":"0.04"}]},"mark":{"type":"bar","color":"#FF0000"},
    "encoding":{"x":{"datum":30.256},"y":{"datum":1.944},"y2":{"datum":2.871},"size":{"datum":0.04}}},
   {"data":{"values":[{"label":"0.04"}]},"mark":{"type":"text","font":"Liberation Serif","fontSize":22,"align":"center","baseline":"middle","color":"#000"},
    "encoding":{"x":{"datum":30.256},"y":{"datum":1.64},"text":{"field":"label"}}}
  ]}
]
}
